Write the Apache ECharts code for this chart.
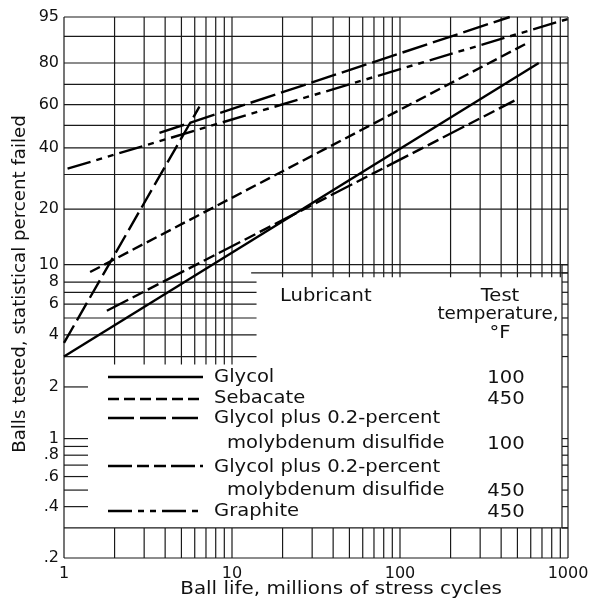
<!DOCTYPE html>
<html>
<head>
<meta charset="utf-8">
<script src="https://cdn.jsdelivr.net/npm/echarts@6/dist/echarts.min.js"></script>
<style>
  html, body { margin: 0; padding: 0; background: #fff; }
  #chart { width: 606px; height: 605px; }
</style>
</head>
<body>
<div id="chart"></div>
<script>
// Weibull probability paper: vertical coordinate is ln(ln(1/(1-F)))
function weibull(pct) { return Math.log(-Math.log(1 - pct / 100)); }

// Axis tick labels
const lifeTicks = [1, 10, 100, 1000];
const pctTickValues = [95, 80, 60, 40, 20, 10, 8, 6, 4, 2, 1, 0.8, 0.6, 0.4, 0.2];
const pctTickLabels = ['95', '80', '60', '40', '20', '10', '8', '6', '4', '2', '1', '.8', '.6', '.4', '.2'];

// Fitted lines (ball life in millions of cycles, percent failed)
const glycol100Life = [1, 670];
const glycol100Pct = [3.0, 80];
const sebacate450Life = [1.43, 580];
const sebacate450Pct = [9.1, 88];
const moly100Life = [3.7, 450];
const moly100Pct = [46.5, 95];
const moly100SteepLife = [1, 6.4];
const moly100SteepPct = [3.6, 59];
const moly450Life = [1.8, 480];
const moly450Pct = [5.5, 62];
const graphite450Life = [1.05, 1000];
const graphite450Pct = [32, 94.6];

// Graph-paper rulings
const lowerDecadeLife = [2, 3, 4, 5, 6, 7, 8, 9, 10];
const upperDecadeLife = [20, 30, 40, 50, 60, 70, 80, 90, 100, 200, 300, 400, 500, 600, 700, 800, 900];
const fullWidthPct = [10, 20, 30, 40, 50, 60, 70, 80, 90];
const leftBandPct = [3, 4, 5, 6, 7, 8];
const shortStubPct = [0.4, 0.5, 0.6, 0.7, 0.8, 0.9, 1, 2];
const ladderPct = [0.3, 0.4, 0.5, 0.6, 0.7, 0.8, 0.9, 1, 2, 3, 4, 5, 6, 7, 8, 9, 10];

const FONT = 'DejaVu Sans';
const INK = '#111';

function pairs(life, pct) { return life.map((x, i) => [x, weibull(pct[i])]); }

// segments: [x1, W1, x2, W2]
const segs = [];
function hseg(p, x1, x2) { segs.push([x1, weibull(p), x2, weibull(p)]); }
function vseg(x, p1, p2) { segs.push([x, weibull(p1), x, weibull(p2)]); }

fullWidthPct.forEach(p => hseg(p, 1, 1000));
hseg(9, 13, 1000);
leftBandPct.forEach(p => hseg(p, 1, 14));
shortStubPct.forEach(p => hseg(p, 1, 1.39));
hseg(0.3, 1, 1000);
ladderPct.forEach(p => hseg(p, 921, 1000));
vseg(921, 0.3, 10);
lowerDecadeLife.forEach(x => vseg(x, 2.7, 95));
upperDecadeLife.forEach(x => vseg(x, 8.5, 95));
lowerDecadeLife.concat(upperDecadeLife).forEach(x => vseg(x, 0.2, 0.3));
// frame
hseg(95, 1, 1000);
hseg(0.2, 1, 1000);
vseg(1, 0.2, 95);
vseg(1000, 0.2, 95);

function lineSeries(name, life, pct, dash) {
  return {
    name: name, type: 'line', data: pairs(life, pct), symbol: 'none', silent: true,
    lineStyle: { color: '#000', width: 2.4, type: dash, cap: 'butt' }, z: 5
  };
}

// wide lettering: text stretched horizontally
function label(text, x, y, align, opts) {
  opts = opts || {};
  return {
    type: 'text', x: x, y: y, rotation: opts.rotation || 0,
    scaleX: opts.sx || 1.15, scaleY: 1,
    style: { text: text, font: (opts.size || 17) + 'px ' + FONT, fill: INK,
             textAlign: align, textVerticalAlign: 'middle' }
  };
}

const legendRows = [
  { y: 377, dash: null },
  { y: 399, dash: [11, 5] },
  { y: 418, dash: [26, 6] },
  { y: 466, dash: [24, 5, 12, 5, 12, 5] },
  { y: 511, dash: [24, 6, 6, 6, 6, 6] }
];
const legendTexts = [
  { t: 'Glycol', x: 214, y: 378 },
  { t: 'Sebacate', x: 214, y: 399 },
  { t: 'Glycol plus 0.2-percent', x: 214, y: 419 },
  { t: 'molybdenum disulfide', x: 227, y: 444 },
  { t: 'Glycol plus 0.2-percent', x: 214, y: 468 },
  { t: 'molybdenum disulfide', x: 227, y: 491 },
  { t: 'Graphite', x: 214, y: 512 }
];
const tempTexts = [
  { t: '100', y: 379 }, { t: '450', y: 400 }, { t: '100', y: 445 }, { t: '450', y: 492 }, { t: '450', y: 513 }
];

const graphics = [];
legendRows.forEach(r => graphics.push({
  type: 'line', shape: { x1: 108, y1: r.y, x2: 203, y2: r.y },
  style: { stroke: '#000', lineWidth: 2.4, lineDash: r.dash || null }
}));
legendTexts.forEach(o => graphics.push(label(o.t, o.x, o.y, 'left')));
tempTexts.forEach(o => graphics.push(label(o.t, 506, o.y, 'center')));
graphics.push(label('Lubricant', 280, 297, 'left'));
graphics.push(label('Test', 500, 297, 'center'));
graphics.push(label('temperature,', 498, 315, 'center', { sx: 1.08 }));
graphics.push(label('°F', 500, 334, 'center'));
// axis titles
graphics.push(label('Ball life, millions of stress cycles', 341, 590, 'center', { sx: 1.17 }));
graphics.push(label('Balls tested, statistical percent failed', 21, 284, 'center', { sx: 1.07, rotation: Math.PI / 2 }));

const chart = echarts.init(document.getElementById('chart'), null, { renderer: 'canvas' });
chart.setOption({
  animation: false,
  backgroundColor: '#fff',
  grid: { left: 64, right: 38, top: 17, bottom: 47 },
  xAxis: {
    type: 'log', logBase: 10, min: 1, max: 1000,
    axisLine: { show: false }, axisTick: { show: false }, splitLine: { show: false },
    axisLabel: {
      fontFamily: FONT, fontSize: 16, color: INK, margin: 8,
      formatter: v => (lifeTicks.indexOf(Math.round(v)) >= 0 ? String(Math.round(v)) : '')
    }
  },
  yAxis: {
    type: 'value', min: weibull(0.2), max: weibull(95),
    axisLine: { show: false }, axisTick: { show: false }, splitLine: { show: false },
    axisLabel: { show: false }
  },
  series: [
    {
      type: 'custom', name: 'rulings', silent: true, clip: false, z: 1,
      data: segs,
      renderItem: function (params, api) {
        const a = api.coord([api.value(0), api.value(1)]);
        const b = api.coord([api.value(2), api.value(3)]);
        return { type: 'line', shape: { x1: a[0], y1: a[1], x2: b[0], y2: b[1] },
                 style: { stroke: '#1a1a1a', lineWidth: 1.2 } };
      }
    },
    {
      type: 'custom', name: 'percent labels', silent: true, clip: false, z: 3,
      data: pctTickValues.map(p => [1, weibull(p)]),
      renderItem: function (params, api) {
        const pt = api.coord([api.value(0), api.value(1)]);
        return { type: 'text', x: pt[0] - 5, y: pt[1],
                 style: { text: pctTickLabels[params.dataIndex], font: '16px ' + FONT, fill: INK,
                          textAlign: 'right', textVerticalAlign: 'middle' } };
      }
    },
    lineSeries('Glycol, 100 °F', glycol100Life, glycol100Pct, 'solid'),
    lineSeries('Sebacate, 450 °F', sebacate450Life, sebacate450Pct, [11, 5]),
    lineSeries('Glycol plus 0.2-percent molybdenum disulfide, 100 °F', moly100Life, moly100Pct, [26, 6]),
    lineSeries('Glycol plus 0.2-percent molybdenum disulfide, 100 °F (b)', moly100SteepLife, moly100SteepPct, [20, 6]),
    lineSeries('Glycol plus 0.2-percent molybdenum disulfide, 450 °F', moly450Life, moly450Pct, [24, 5, 12, 5, 12, 5]),
    lineSeries('Graphite, 450 °F', graphite450Life, graphite450Pct, [24, 6, 6, 6, 6, 6])
  ],
  graphic: graphics
});
</script>
</body>
</html>
